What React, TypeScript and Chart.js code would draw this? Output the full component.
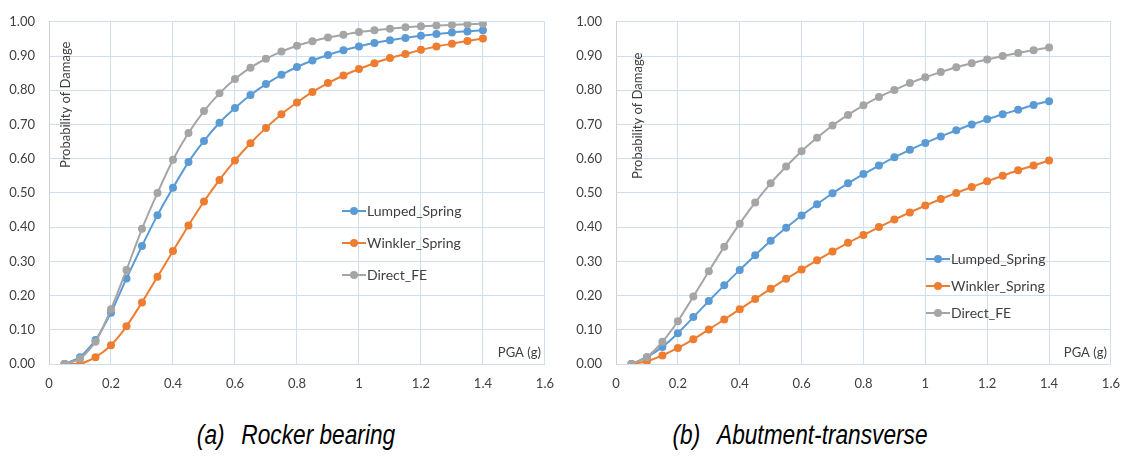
import React, { useEffect, useRef } from "react";
import { Chart, registerables } from "chart.js";

Chart.register(...registerables);

const PGA = [0.05, 0.1, 0.15, 0.2, 0.25, 0.3, 0.35, 0.4, 0.45, 0.5, 0.55, 0.6, 0.65, 0.7, 0.75, 0.8, 0.85, 0.9, 0.95, 1.0, 1.05, 1.1, 1.15, 1.2, 1.25, 1.3, 1.35, 1.4];

const rockerLumped = [0.0, 0.02, 0.07, 0.15, 0.25, 0.345, 0.435, 0.515, 0.59, 0.652, 0.705, 0.748, 0.786, 0.818, 0.845, 0.868, 0.887, 0.903, 0.917, 0.928, 0.938, 0.946, 0.953, 0.959, 0.964, 0.969, 0.972, 0.975];
const rockerWinkler = [0.0, 0.0, 0.02, 0.055, 0.11, 0.18, 0.255, 0.33, 0.405, 0.475, 0.538, 0.595, 0.645, 0.69, 0.73, 0.764, 0.795, 0.821, 0.843, 0.862, 0.879, 0.894, 0.906, 0.918, 0.928, 0.936, 0.944, 0.951];
const rockerDirect = [0.0, 0.015, 0.065, 0.16, 0.275, 0.395, 0.5, 0.597, 0.675, 0.739, 0.791, 0.833, 0.866, 0.892, 0.913, 0.93, 0.943, 0.954, 0.962, 0.97, 0.975, 0.98, 0.984, 0.987, 0.989, 0.991, 0.993, 0.994];

const abutLumped = [0.0, 0.02, 0.05, 0.09, 0.137, 0.184, 0.23, 0.275, 0.318, 0.36, 0.398, 0.434, 0.467, 0.499, 0.528, 0.555, 0.58, 0.604, 0.626, 0.646, 0.665, 0.683, 0.7, 0.715, 0.73, 0.743, 0.757, 0.768];
const abutWinkler = [0.0, 0.008, 0.025, 0.047, 0.072, 0.101, 0.13, 0.16, 0.19, 0.22, 0.249, 0.276, 0.303, 0.329, 0.354, 0.377, 0.4, 0.422, 0.443, 0.463, 0.482, 0.5, 0.517, 0.534, 0.55, 0.566, 0.58, 0.595];
const abutDirect = [0.0, 0.02, 0.065, 0.125, 0.197, 0.271, 0.343, 0.41, 0.472, 0.528, 0.577, 0.622, 0.661, 0.697, 0.728, 0.756, 0.78, 0.801, 0.821, 0.838, 0.853, 0.867, 0.879, 0.89, 0.9, 0.909, 0.917, 0.925];

const seriesNames = ["Lumped_Spring", "Winkler_Spring", "Direct_FE"];
const seriesColors = ["#5b9bd5", "#ed7d31", "#a5a5a5"];

const xTickLabels = ["0", "0.2", "0.4", "0.6", "0.8", "1", "1.2", "1.4", "1.6"];
const yTickLabels = ["0.00", "0.10", "0.20", "0.30", "0.40", "0.50", "0.60", "0.70", "0.80", "0.90", "1.00"];

const yTitle = "Probability of Damage";
const xTitle = "PGA (g)";

const FONT = "Lato, 'Open Sans', sans-serif";
const TEXT = "#404040";
const GRID = "#cddff1";

const overlayPlugin = {
  id: "overlay",
  afterDatasetsDraw(chart: any, _args: any, opts: any) {
    const { ctx, chartArea } = chart;
    ctx.save();
    ctx.fillStyle = TEXT;
    ctx.font = `13px ${FONT}`;
    ctx.translate(chartArea.left + opts.titleDX, chartArea.top + opts.titleDY);
    ctx.rotate(-Math.PI / 2);
    ctx.textAlign = "center";
    ctx.textBaseline = "middle";
    ctx.fillText(yTitle, 0, 0);
    ctx.restore();

    ctx.save();
    ctx.fillStyle = TEXT;
    ctx.font = `13px ${FONT}`;
    ctx.textAlign = "right";
    ctx.textBaseline = "middle";
    ctx.fillText(xTitle, chartArea.right - 4, chartArea.bottom - 11);
    ctx.restore();

    ctx.save();
    ctx.font = `14px ${FONT}`;
    ctx.textBaseline = "middle";
    ctx.textAlign = "left";
    chart.data.datasets.forEach((ds: any, i: number) => {
      const y = opts.legY + i * opts.legGap;
      const x0 = opts.legX;
      ctx.strokeStyle = ds.borderColor;
      ctx.lineWidth = 2;
      ctx.beginPath();
      ctx.moveTo(x0, y);
      ctx.lineTo(x0 + 24, y);
      ctx.stroke();
      ctx.fillStyle = ds.backgroundColor;
      ctx.beginPath();
      ctx.arc(x0 + 12, y, 4, 0, Math.PI * 2);
      ctx.fill();
      ctx.fillStyle = TEXT;
      ctx.fillText(ds.label, x0 + 25, y);
    });
    ctx.restore();
  },
};

function makeConfig(series: number[][], yAxisWidth: number, padRight: number, overlay: any) {
  return {
    type: "line" as const,
    data: {
      datasets: series.map((vals, i) => ({
        label: seriesNames[i],
        data: PGA.map((x, j) => ({ x, y: vals[j] })),
        borderColor: seriesColors[i],
        backgroundColor: seriesColors[i],
        borderWidth: 2,
        pointRadius: 4,
        pointBorderWidth: 0,
        pointHoverRadius: 4,
        tension: 0.2,
        order: 2 - i,
      })),
    },
    options: {
      responsive: false,
      animation: false,
      layout: { padding: { top: 13, right: padRight, bottom: 0, left: 0 } },
      plugins: {
        legend: { display: false },
        tooltip: { enabled: false },
        overlay,
      },
      scales: {
        x: {
          type: "linear",
          min: 0,
          max: 1.6,
          ticks: {
            stepSize: 0.2,
            padding: 12,
            color: TEXT,
            font: { family: FONT, size: 13 },
            maxRotation: 0,
            autoSkip: false,
            callback: (_v: any, idx: number) => xTickLabels[idx],
          },
          grid: { color: GRID, drawTicks: false, lineWidth: 1 },
          border: { color: GRID },
          afterFit: (s: any) => {
            s.height = 36;
          },
        },
        y: {
          type: "linear",
          min: 0,
          max: 1,
          ticks: {
            stepSize: 0.1,
            padding: 14,
            color: TEXT,
            font: { family: FONT, size: 13 },
            autoSkip: false,
            callback: (_v: any, idx: number) => yTickLabels[idx],
          },
          grid: { color: GRID, drawTicks: false, lineWidth: 1 },
          border: { color: "#d0d0d0" },
          afterFit: (s: any) => {
            s.width = yAxisWidth;
          },
        },
      },
    },
    plugins: [overlayPlugin],
  };
}

function ChartBox({ config, left }: { config: any; left: number }) {
  const ref = useRef<HTMLCanvasElement>(null);
  useEffect(() => {
    const chart = new Chart(ref.current as HTMLCanvasElement, config);
    return () => chart.destroy();
  }, [config]);
  return (
    <canvas
      ref={ref}
      width={566}
      height={400}
      style={{ position: "absolute", left, top: 0, width: 566, height: 400 }}
    />
  );
}

const leftConfig = makeConfig([rockerLumped, rockerWinkler, rockerDirect], 49, 20, {
  titleDX: 17,
  titleDY: 83,
  legX: 342,
  legY: 211,
  legGap: 32,
});
const rightConfig = makeConfig([abutLumped, abutWinkler, abutDirect], 50, 19, {
  titleDX: 22,
  titleDY: 94,
  legX: 360,
  legY: 259,
  legGap: 27,
});

const captionStyle: React.CSSProperties = {
  position: "absolute",
  top: 419,
  fontFamily: "'Liberation Sans Narrow', 'Liberation Sans', Arial, sans-serif",
  fontStyle: "italic",
  fontSize: 27,
  color: "#000",
  whiteSpace: "nowrap",
  transform: "translateX(-50%) scaleX(0.84)",
  lineHeight: "32px",
};

export default function App() {
  useEffect(() => {
    document.body.style.margin = "0";
  }, []);
  return (
    <div style={{ position: "relative", width: 1132, height: 457, background: "#fff", overflow: "hidden" }}>
      <ChartBox config={leftConfig} left={0} />
      <ChartBox config={rightConfig} left={566} />
      <div style={{ ...captionStyle, left: 296 }}>
        <span>(a)</span>
        <span style={{ marginLeft: 20 }}>Rocker bearing</span>
      </div>
      <div style={{ ...captionStyle, left: 800 }}>
        <span>(b)</span>
        <span style={{ marginLeft: 20 }}>Abutment-transverse</span>
      </div>
    </div>
  );
}
